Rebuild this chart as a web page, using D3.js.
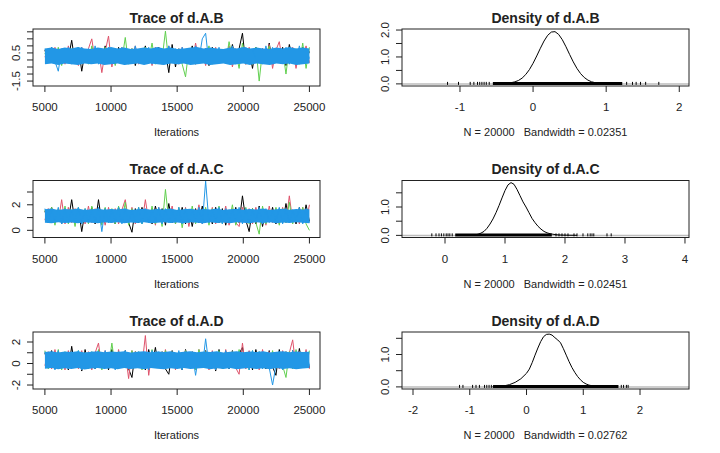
<!DOCTYPE html>
<html><head><meta charset="utf-8">
<script src="https://cdn.jsdelivr.net/npm/d3@7"></script>
<style>body{margin:0;background:#fff}svg{display:block;font-family:"Liberation Sans",Arial,sans-serif}</style>
</head><body><svg id="c" width="720" height="453"></svg>
<script>
// ---------------- data ----------------
const params = ["d.A.B", "d.A.C", "d.A.D"];
const chainColors = ["#000000", "#DF536B", "#61D04F", "#2297E6"];
const iterStart = 5001, iterEnd = 25000;
const nSamples = 20000;
const bandwidths = ["0.02351", "0.02451", "0.02762"];
const traceXTicks = [5000, 10000, 15000, 20000, 25000];

// trace values (thinned), chains: black, red, green, blue
const traceAB_black = [0.7,-0.1,0.9,0.0,0.6,-0.3,0.8,0.1,1.4,-0.2, 0.9,-0.8,0.6,0.0,0.8,-0.2,0.7,-0.1,1.0,0.0, 0.6,-0.3,0.9,0.1,0.7,-0.2,0.8,-0.4,0.6,0.1, 1.0,-0.2,0.7,0.0,0.9,-0.3,0.6,-0.9,1.1,-0.5, 0.8,-0.2,0.7,0.0,1.0,-0.3,0.6,0.1,0.8,-0.4, 0.9,-0.1,0.7,0.0,0.6,-0.2,1.1,0.0,0.8,1.9, -0.3,0.7,-0.6,0.9,0.0,0.8,-0.2,1.2,-0.3,0.7, 0.0,0.9,-0.4,1.1,0.1,0.7,-0.2,0.9,0.0,0.6];
const traceAB_red = [0.2,0.8,-0.2,0.9,0.0,0.7,-0.3,1.0,0.1,0.6, -0.4,0.9,0.0,0.8,1.5,-0.1,0.7,-0.9,0.6,1.7, -0.5,0.8,0.0,0.9,-0.2,0.7,0.1,1.0,-0.3,0.6, 0.0,0.8,-0.4,0.9,0.1,0.7,-0.2,1.0,0.0,0.6, -0.3,0.9,0.1,0.8,-0.2,1.2,0.0,0.7,-0.4,0.8, 0.1,0.9,-0.2,0.7,0.0,1.0,-0.5,0.8,0.0,0.6, -0.3,0.9,0.1,0.7,-0.2,0.8,0.0,1.1,-0.6,0.7, 1.3,-0.2,0.8,0.0,0.9,-0.6,0.7,0.1,1.0,-0.2];
const traceAB_green = [0.5,-0.2,0.8,0.0,0.9,-0.4,0.7,0.1,0.8,-0.2, 0.9,0.0,0.7,-0.3,1.0,0.1,0.6,-0.2,0.9,0.0, 0.8,-0.4,0.7,0.0,1.6,-0.3,0.8,0.1,0.6,-0.2, 0.9,0.0,1.2,-0.3,0.7,0.1,2.05,-0.2,0.8,0.0, 0.6,-0.3,-1.2,0.8,0.0,0.9,-0.2,0.7,0.1,1.0, -0.3,0.8,0.0,0.7,-0.2,1.3,0.1,0.6,-0.6,1.2, 0.0,0.8,-0.3,0.9,-1.5,0.7,0.0,1.0,-0.2,0.8, 0.1,0.7,-1.0,0.9,0.0,0.8,-0.3,1.2,-0.6,0.9];
const traceAB_blue = [0.8,-0.2,0.9,-0.1,-0.8,0.8,0.0,0.9,-0.3,0.7, 0.1,0.9,-0.2,0.8,0.0,1.0,-0.3,0.7,0.1,0.9, -0.2,0.8,0.0,0.9,-0.3,0.7,0.1,1.0,-0.2,0.8, 0.0,0.9,-0.3,0.8,0.1,0.7,-0.2,1.0,0.0,0.8, -0.3,0.9,0.1,0.7,-0.2,1.0,0.0,1.5,1.9,-0.3, 0.8,0.0,0.9,-0.2,0.7,0.1,1.0,-0.3,0.8,0.0, 0.9,-0.2,0.7,0.1,0.8,-0.3,1.0,0.0,0.9,-0.2, 0.8,0.1,0.9,-0.3,0.7,0.0,1.0,-0.2,0.8,0.1];
// dense central range of the blue chain, read every 500 iterations
const coreAB_lo = [-0.3,-0.25,-0.35,-0.25,-0.3,-0.35,-0.25,-0.3,-0.25,-0.35,-0.3,-0.25,-0.35,-0.3,-0.25,-0.35,-0.25,-0.3,-0.35,-0.25,-0.3,-0.25,-0.35,-0.3,-0.25,-0.35,-0.3,-0.25,-0.35,-0.3,-0.25,-0.35,-0.25,-0.3,-0.35,-0.25,-0.3,-0.25,-0.35,-0.3,-0.25];
const coreAB_hi = [0.82,0.88,0.78,0.88,0.82,0.92,0.82,0.78,0.88,0.82,0.92,0.82,0.88,0.78,0.82,0.88,0.82,0.92,0.82,0.88,0.78,0.82,0.88,0.92,0.82,0.88,0.82,0.78,0.88,0.82,0.92,0.82,0.88,0.82,0.78,0.88,0.82,0.92,0.82,0.88,0.82];

const traceAC_black = [1.5,0.7,1.8,0.6,1.6,0.5,1.7,0.8,2.4,0.6, 1.7,-0.1,1.5,0.7,1.8,0.5,2.4,0.6,1.7,0.8, 1.6,0.5,1.8,0.7,1.5,0.6,-0.15,1.7,0.6,1.8, 0.7,1.6,0.5,1.9,0.8,1.7,0.4,2.1,0.6,1.5, 0.7,1.8,0.5,1.6,0.3,1.7,0.6,1.9,0.7,1.5, 0.5,1.8,0.6,1.7,0.4,1.6,0.7,1.8,0.6,2.7, 0.8,-0.1,1.7,0.5,1.9,0.3,1.6,0.7,1.8,0.5, 1.7,0.6,2.1,0.7,1.6,0.5,1.8,0.6,2.0,0.7];
const traceAC_red = [0.8,1.7,0.6,1.5,0.7,2.4,0.5,1.8,0.6,1.7, 0.7,1.6,0.5,1.9,0.6,1.7,0.8,1.5,0.4,1.8, 0.6,1.7,0.5,1.6,2.4,0.7,1.8,0.5,1.5,0.6, 2.4,0.7,1.7,0.4,1.8,0.6,1.6,0.7,1.9,0.5, 1.7,0.6,1.8,0.3,1.6,0.7,2.0,0.5,1.7,0.6, 1.8,0.5,1.6,0.7,1.9,0.4,1.7,0.6,0.3,1.8, 0.6,1.7,0.5,1.8,0.7,1.6,0.4,1.9,0.6,1.7, 0.5,1.8,0.6,2.7,0.7,1.6,0.5,1.8,0.6,2.0];
const traceAC_green = [1.6,0.6,1.8,0.4,1.7,0.7,1.9,0.5,1.6,0.3, 1.8,0.6,1.7,0.5,1.9,0.7,1.6,0.4,1.8,0.6, 1.7,0.5,1.9,0.6,2.2,0.4,1.7,0.7,1.8,0.5, 1.6,0.6,1.9,0.5,1.7,0.3,3.2,0.7,1.6,0.5, 1.8,0.2,1.7,0.6,1.9,0.5,1.6,0.7,1.8,0.4, 1.7,0.6,1.9,0.5,1.6,0.7,2.0,0.4,1.3,0.7, 1.8,0.5,1.7,0.6,-0.3,1.9,0.5,1.6,0.7,1.8, 0.4,1.7,0.6,2.2,0.5,1.6,0.7,1.8,0.5,0.0];
const traceAC_blue = [1.7,0.6,1.6,0.7,1.8,0.5,1.7,0.6,1.6,0.7, 1.8,0.5,1.7,0.6,1.6,0.7,1.8,-0.1,1.7,0.6, 1.6,0.7,1.8,0.5,1.7,0.6,1.6,0.7,1.8,0.5, 1.7,0.6,1.6,0.7,1.8,0.5,1.7,0.6,1.6,0.7, 1.8,0.5,1.7,0.6,1.6,0.7,1.8,0.5,3.85,0.6, 1.6,0.7,1.8,0.5,1.7,0.6,1.6,0.7,1.8,0.5, 1.7,0.6,1.6,0.7,1.8,0.5,1.7,0.6,1.6,0.7, 1.8,0.5,1.7,0.6,1.6,0.7,1.8,0.5,1.7,0.6];
const coreAC_lo = [0.6,0.56,0.64,0.58,0.62,0.56,0.64,0.6,0.56,0.63,0.58,0.64,0.56,0.62,0.58,0.64,0.56,0.6,0.64,0.58,0.62,0.56,0.63,0.6,0.56,0.64,0.58,0.62,0.56,0.64,0.6,0.56,0.63,0.58,0.64,0.56,0.62,0.58,0.64,0.6,0.56];
const coreAC_hi = [1.65,1.7,1.6,1.67,1.63,1.71,1.6,1.65,1.69,1.61,1.67,1.63,1.71,1.6,1.65,1.69,1.61,1.67,1.63,1.71,1.6,1.65,1.69,1.61,1.67,1.63,1.71,1.6,1.65,1.69,1.61,1.67,1.63,1.71,1.6,1.65,1.69,1.61,1.67,1.63,1.65];

const traceAD_black = [1.0,-0.3,1.2,-0.5,1.1,-0.2,0.9,-0.6,1.6,-0.4, 1.1,-0.7,1.3,-0.2,1.0,-0.5,1.2,-0.3,0.9,-0.6, 1.3,-0.4,1.0,-0.2,1.2,-0.5,-1.3,1.1,-0.3,0.9, -0.6,1.3,-0.2,1.5,-0.4,1.1,-0.5,-1.0,1.2,-0.3, 1.0,-0.6,1.3,-0.2,1.1,-0.5,0.9,-0.4,1.2,-0.3, 1.0,-0.7,1.3,-0.2,1.1,-0.5,1.2,-0.3,0.9,1.5, -0.4,1.1,-0.6,1.3,-0.2,1.0,-0.5,1.2,-0.3,-1.1, 1.3,-0.4,1.1,-0.2,1.2,-0.5,1.4,-0.3,1.0,-0.4];
const traceAD_red = [-0.2,1.1,-0.5,1.3,-0.3,1.0,-0.6,1.2,-0.2,0.9, -0.5,1.2,-0.3,1.1,-0.6,1.0,1.9,-0.4,1.2,-0.2, 1.0,-0.5,1.3,-0.3,1.1,-1.4,1.2,-0.4,0.9,-0.2, 2.6,-1.1,1.2,-0.3,1.0,-0.5,1.3,-0.2,1.1,-0.6, 0.9,-0.4,1.2,-0.3,1.0,-0.5,1.3,-0.2,1.1,-0.6, 1.2,-0.3,1.0,-0.5,1.3,-0.2,1.1,-0.4,-1.0,1.9, -0.5,1.2,-0.3,1.0,-0.6,1.3,-0.2,1.1,-0.4,0.9, -0.5,1.2,-0.3,1.0,2.2,-0.4,1.1,-0.2,1.3,-0.5];
const traceAD_green = [1.2,-0.5,1.0,-0.3,1.3,-0.6,1.1,-0.2,0.9,-0.4, 1.2,-0.3,1.0,-0.5,1.1,-0.2,1.3,-0.6,0.9,-0.3, 1.9,-0.4,1.1,-0.2,1.0,-0.5,1.2,-0.3,1.1,-0.6, 0.9,-0.2,1.3,-0.4,1.0,-0.5,1.2,-0.3,1.1,-0.2, 0.9,-0.5,1.2,-0.3,1.0,-0.6,1.3,-0.2,1.1,-0.4, 1.0,-0.3,1.2,-0.5,0.9,-0.2,1.1,-0.4,1.3,-0.3, 1.0,-0.6,1.2,-0.2,1.1,-0.5,0.9,-0.3,1.2,-0.4, 1.0,-0.2,-1.3,1.1,-0.5,1.3,-0.3,1.0,-0.4,1.2];
const traceAD_blue = [1.1,-0.4,1.0,-0.6,1.2,-0.3,0.9,-0.5,1.1,-0.2, 1.2,-0.6,1.0,-0.3,1.1,-0.5,0.9,-0.4,1.2,-0.2, 1.0,-0.6,1.1,-0.3,1.2,-0.5,0.9,-0.4,1.1,-0.2, 1.0,-0.6,1.2,-0.3,1.1,-0.5,0.9,-0.4,1.0,-0.2, 1.2,-0.6,1.1,-0.3,1.0,-1.1,0.9,-0.4,2.3,-0.2, 1.1,-0.6,1.0,-0.3,1.2,-0.5,0.9,-0.4,1.1,-0.2, 1.0,-0.6,1.2,-0.3,1.1,-0.5,0.9,-0.4,-2.0,-0.2, 1.1,-0.6,1.0,-0.3,1.2,-0.5,0.9,-0.4,1.1,-0.2];
const coreAD_lo = [-0.48,-0.42,-0.54,-0.45,-0.5,-0.42,-0.56,-0.46,-0.42,-0.52,-0.45,-0.54,-0.42,-0.5,-0.45,-0.54,-0.42,-0.48,-0.54,-0.45,-0.5,-0.42,-0.52,-0.46,-0.42,-0.54,-0.45,-0.5,-0.42,-0.54,-0.46,-0.42,-0.52,-0.45,-0.54,-0.42,-0.5,-0.45,-0.54,-0.46,-0.42];
const coreAD_hi = [1.08,1.13,1.03,1.11,1.07,1.15,1.03,1.09,1.13,1.05,1.11,1.07,1.15,1.03,1.09,1.13,1.05,1.11,1.07,1.15,1.03,1.09,1.13,1.05,1.11,1.07,1.15,1.03,1.09,1.13,1.05,1.11,1.07,1.15,1.03,1.09,1.13,1.05,1.11,1.07,1.09];

// density curves
const densAB_x = [-0.5,-0.45,-0.4,-0.35,-0.3,-0.25,-0.2,-0.15,-0.1,-0.05,0,0.05,0.1,0.15,0.2,0.25,0.3,0.35,0.4,0.45,0.5,0.55,0.6,0.65,0.7,0.75,0.8,0.85,0.9,0.95,1.0,1.05,1.1,1.2];
const densAB_y = [0.005,0.008,0.014,0.025,0.045,0.075,0.126,0.214,0.349,0.531,0.765,1.037,1.323,1.592,1.804,1.925,1.94,1.837,1.64,1.379,1.093,0.817,0.575,0.382,0.238,0.14,0.078,0.045,0.028,0.016,0.01,0.006,0.004,0.002];
const densAC_x = [0.4,0.45,0.5,0.55,0.6,0.65,0.7,0.75,0.8,0.85,0.9,0.95,1.0,1.05,1.1,1.15,1.2,1.25,1.3,1.35,1.4,1.45,1.5,1.55,1.6,1.65,1.7,1.75,1.8,1.85,1.9,2.0,2.2];
const densAC_y = [0.005,0.01,0.02,0.04,0.08,0.14,0.25,0.4,0.58,0.8,1.05,1.32,1.58,1.78,1.86,1.8,1.62,1.4,1.18,1.0,0.8,0.6,0.45,0.32,0.22,0.14,0.09,0.06,0.04,0.025,0.015,0.008,0.003];
const densAD_x = [-0.6,-0.5,-0.4,-0.3,-0.2,-0.1,0,0.05,0.1,0.15,0.2,0.25,0.3,0.35,0.4,0.45,0.5,0.55,0.6,0.65,0.7,0.75,0.8,0.85,0.9,0.95,1.0,1.05,1.1,1.2,1.3,1.4];
const densAD_y = [0.003,0.01,0.03,0.07,0.14,0.25,0.42,0.55,0.75,0.98,1.2,1.4,1.55,1.62,1.63,1.6,1.52,1.45,1.36,1.18,0.98,0.78,0.6,0.45,0.32,0.22,0.14,0.09,0.055,0.02,0.008,0.003];

// observation rugs: dense core range and isolated observations
const rugAB_core = [-0.55, 1.22];
const rugAB_obs = [-1.17,-1.02,-0.86,-0.81,-0.76,-0.73,-0.7,-0.67,-0.64,-0.6,1.28,1.36,1.41,1.47,1.54,1.72];
const rugAC_core = [0.17, 1.78];
const rugAC_obs = [-0.22,-0.15,-0.1,-0.06,-0.02,0.02,0.05,0.08,0.12,1.85,1.9,1.95,2.0,2.05,2.15,2.2,2.3,2.38,2.42,2.45,2.48,2.7,2.77];
const rugAD_core = [-0.59, 1.62];
const rugAD_obs = [-1.18,-1.12,-0.95,-0.89,-0.83,-0.74,-0.7,-0.66,-0.62,1.67,1.71,1.76,1.79];

// axis ticks and labels
const traceYTicks = [[-1.5,-1,-0.5,0,0.5,1,1.5,2],[0,1,2,3],[-2,-1,0,1,2]];
const traceYLabels = [[-1.5,0.5],[0,2],[-2,0,2]];
const densXTicks = [[-1,0,1,2],[0,1,2,3,4],[-2,-1,0,1,2]];
const densYTicks = [[0,0.5,1,1.5,2],[0,0.5,1,1.5],[0,0.5,1,1.5]];
const densYLabels = [[0,1,2],[0,1],[0,1]];

// ---------------- layout ----------------
const W = 720, H = 453;
const rowTop = [29, 180.5, 332], boxH = 57;
const traceL = 33, traceR = 320, densL = 402, densR = 689;
const traceYDom = [[-1.85, 2.2], [-0.56, 3.9], [-2.37, 2.93]];
const traceXDom = [4100, 25800];
const densXDom = [[-1.793, 2.133], [-0.717, 4.067], [-2.194, 2.863]];
const densYDom = [[-0.0784, 2.0384], [-0.0744, 1.934], [-0.065, 1.695]];
const tickLen = 6, fs = 11.5, ink = "#222";

const traces = [
  [traceAB_black, traceAB_red, traceAB_green, traceAB_blue],
  [traceAC_black, traceAC_red, traceAC_green, traceAC_blue],
  [traceAD_black, traceAD_red, traceAD_green, traceAD_blue]];
const cores = [[coreAB_lo, coreAB_hi], [coreAC_lo, coreAC_hi], [coreAD_lo, coreAD_hi]];
const dens = [[densAB_x, densAB_y], [densAC_x, densAC_y], [densAD_x, densAD_y]];
const rugCore = [rugAB_core, rugAC_core, rugAD_core];
const rugObs = [rugAB_obs, rugAC_obs, rugAD_obs];

const svg = d3.select("#c");
svg.append("rect").attr("width", W).attr("height", H).attr("fill", "#fff");

function yAxis(g, y, ticks, labels, left, lblFmt) {
  g.selectAll(null).data(ticks).join("line")
    .attr("x1", left - tickLen).attr("x2", left)
    .attr("y1", d => y(d)).attr("y2", d => y(d))
    .attr("stroke", ink).attr("stroke-width", 1);
  g.selectAll(null).data(labels).join("text")
    .attr("transform", d => `translate(${left - 13},${y(d)}) rotate(-90)`)
    .attr("text-anchor", "middle").attr("font-size", fs).attr("fill", ink)
    .text(lblFmt);
}
function xAxis(g, x, ticks, bottom, lblFmt) {
  g.selectAll(null).data(ticks).join("line")
    .attr("x1", d => x(d)).attr("x2", d => x(d))
    .attr("y1", bottom).attr("y2", bottom + tickLen)
    .attr("stroke", ink).attr("stroke-width", 1);
  g.selectAll(null).data(ticks).join("text")
    .attr("x", d => x(d)).attr("y", bottom + 25)
    .attr("text-anchor", "middle").attr("font-size", fs).attr("fill", ink)
    .text(lblFmt);
}

params.forEach((p, r) => {
  const top = rowTop[r], bottom = top + boxH;

  // ---- trace panel ----
  const gt = svg.append("g");
  const x = d3.scaleLinear().domain(traceXDom).range([traceL, traceR]);
  const y = d3.scaleLinear().domain(traceYDom[r]).range([bottom, top]);
  const clipId = "clipT" + r;
  gt.append("clipPath").attr("id", clipId).append("rect")
    .attr("x", traceL).attr("y", top).attr("width", traceR - traceL).attr("height", boxH);
  const lines = gt.append("g").attr("clip-path", `url(#${clipId})`);
  const iterAt = n => i => iterStart + i * (iterEnd - iterStart) / (n - 1);
  traces[r].forEach((vals, c) => {
    const n = vals.length, it = iterAt(n);
    if (c === 3) {
      const [lo, hi] = cores[r], m = lo.length, itc = iterAt(m);
      const area = d3.area().x((d, i) => x(itc(i))).y0(d => y(d)).y1((d, i) => y(hi[i]));
      lines.append("path").datum(lo).attr("d", area).attr("fill", chainColors[3]);
    }
    const line = d3.line().x((d, i) => x(it(i))).y(d => y(d));
    lines.append("path").datum(vals).attr("d", line)
      .attr("fill", "none").attr("stroke", chainColors[c]).attr("stroke-width", 1);
  });
  gt.append("rect").attr("x", traceL).attr("y", top).attr("width", traceR - traceL).attr("height", boxH)
    .attr("fill", "none").attr("stroke", ink).attr("stroke-width", 1);
  yAxis(gt, y, traceYTicks[r], traceYLabels[r], traceL, d => (r === 0 ? d.toFixed(1) : String(d)));
  xAxis(gt, x, traceXTicks, bottom, d => String(d));
  gt.append("text").attr("x", (traceL + traceR) / 2).attr("y", top - 6.5)
    .attr("text-anchor", "middle").attr("font-size", 14).attr("font-weight", "bold").attr("fill", ink)
    .text("Trace of " + p);
  gt.append("text").attr("x", (traceL + traceR) / 2).attr("y", bottom + 50)
    .attr("text-anchor", "middle").attr("font-size", 11).attr("fill", ink)
    .text("Iterations");

  // ---- density panel ----
  const gd = svg.append("g");
  const dx = d3.scaleLinear().domain(densXDom[r]).range([densL, densR]);
  const dy = d3.scaleLinear().domain(densYDom[r]).range([bottom, top]);
  gd.append("line").attr("x1", densL).attr("x2", densR).attr("y1", dy(0)).attr("y2", dy(0))
    .attr("stroke", "#bdbdbd").attr("stroke-width", 1.5);
  gd.append("line").attr("x1", dx(rugCore[r][0])).attr("x2", dx(rugCore[r][1]))
    .attr("y1", dy(0) - 0.5).attr("y2", dy(0) - 0.5).attr("stroke", "#000").attr("stroke-width", 3);
  gd.selectAll(null).data(rugObs[r]).join("line")
    .attr("x1", d => dx(d)).attr("x2", d => dx(d))
    .attr("y1", dy(0) + 1).attr("y2", dy(0) - 2)
    .attr("stroke", "#000").attr("stroke-width", 1);
  const [xs, ys] = dens[r];
  const dl = d3.line().x((d, i) => dx(xs[i])).y(d => dy(d));
  gd.append("path").datum(ys).attr("d", dl).attr("fill", "none").attr("stroke", "#000").attr("stroke-width", 1);
  gd.append("rect").attr("x", densL).attr("y", top).attr("width", densR - densL).attr("height", boxH)
    .attr("fill", "none").attr("stroke", ink).attr("stroke-width", 1);
  yAxis(gd, dy, densYTicks[r], densYLabels[r], densL, d => d.toFixed(1));
  xAxis(gd, dx, densXTicks[r], bottom, d => String(d));
  gd.append("text").attr("x", (densL + densR) / 2).attr("y", top - 6.5)
    .attr("text-anchor", "middle").attr("font-size", 14).attr("font-weight", "bold").attr("fill", ink)
    .text("Density of " + p);
  gd.append("text").attr("x", (densL + densR) / 2).attr("y", bottom + 50)
    .attr("text-anchor", "middle").attr("font-size", 11).attr("fill", ink)
    .style("white-space", "pre")
    .text("N = " + nSamples + "   Bandwidth = " + bandwidths[r]);
});
</script>
</body></html>
